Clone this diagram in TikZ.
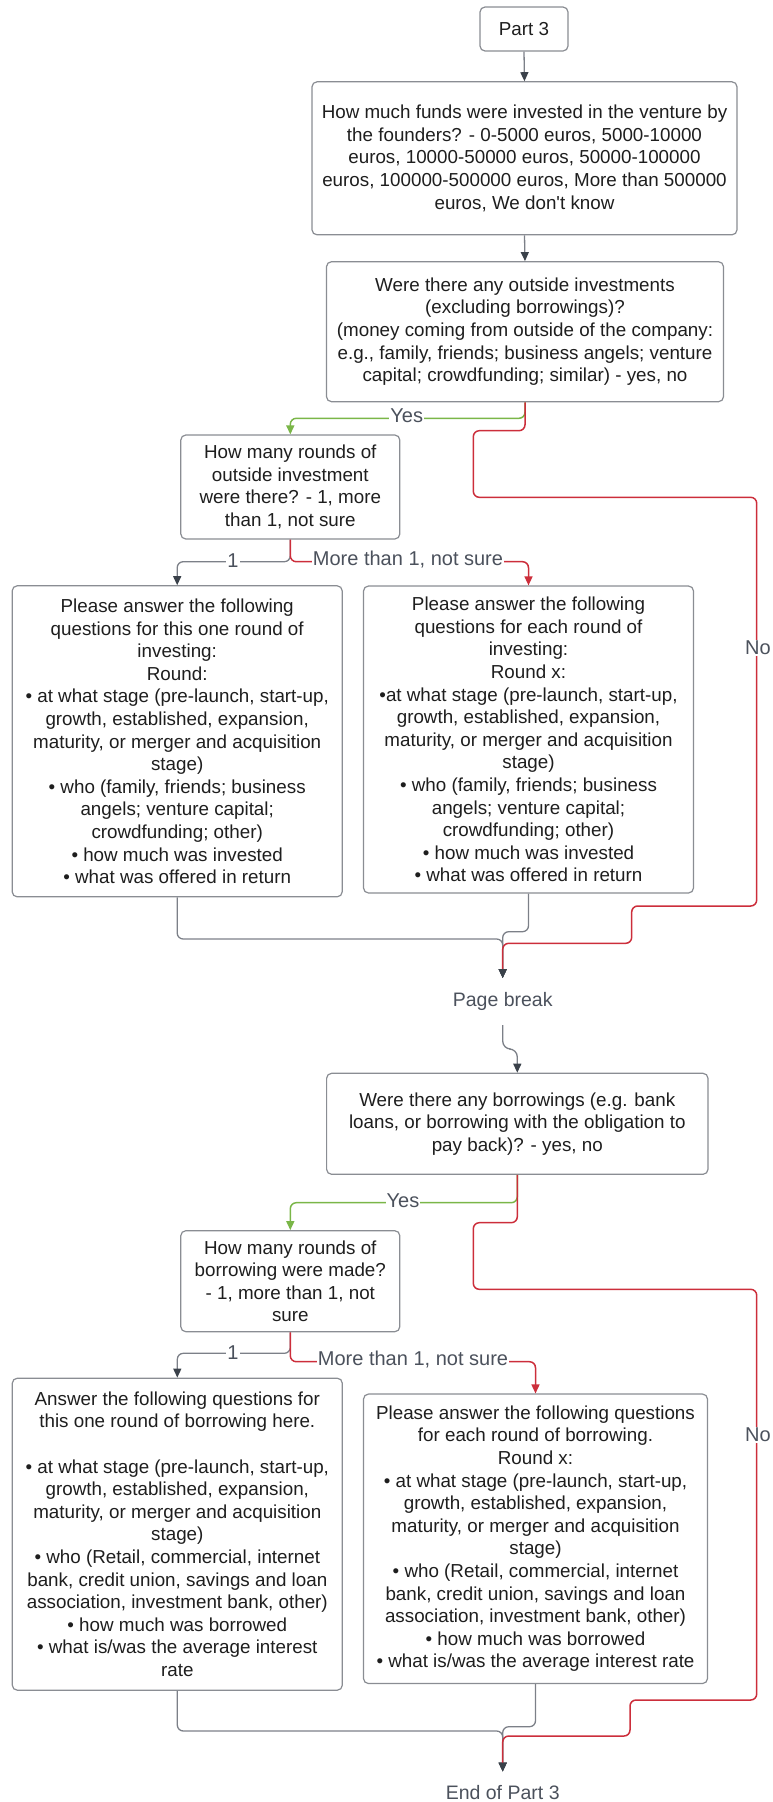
\documentclass[tikz,border=0pt]{standalone}
\usepackage{fontspec}
\setmainfont{Liberation Sans}
\usetikzlibrary{arrows.meta}
\definecolor{boxline}{HTML}{8A8D93}
\definecolor{conn}{HTML}{7C8088}
\definecolor{tipc}{HTML}{3A414A}
\definecolor{yesg}{HTML}{7AB648}
\definecolor{nor}{HTML}{CC2E3B}
\definecolor{lbl}{HTML}{4B515C}
\definecolor{txt}{HTML}{1E1E1E}
\begin{document}
\begin{tikzpicture}[x=1pt,y=-1pt,
  box/.style={draw=boxline, line width=1.2pt, rounded corners=5pt, fill=white, align=center, inner sep=0pt, text=txt, font=\fontsize{18.8}{22.6}\selectfont},
  plain/.style={align=center, inner sep=0pt, text=lbl, font=\fontsize{19.5}{23}\selectfont},
  lab/.style={fill=white, inner sep=1pt, text=lbl, font=\fontsize{20}{24}\selectfont},
  graylink/.style={draw=conn, line width=1.3pt, rounded corners=6pt, -{Triangle[length=9pt,width=8pt,color=tipc,fill=tipc]}},
  greenlink/.style={draw=yesg, line width=1.5pt, rounded corners=6pt, -{Triangle[length=9pt,width=8pt,color=yesg,fill=yesg]}},
  redlink/.style={draw=nor, line width=1.5pt, rounded corners=6pt, -{Triangle[length=9pt,width=8pt,color=nor,fill=nor]}},
  reddark/.style={draw=nor, line width=1.5pt, rounded corners=6pt, -{Triangle[length=9pt,width=8pt,color=tipc,fill=tipc]}}
]
\useasboundingbox (0,0) rectangle (772,1802);

% ---------- nodes ----------
\node[box, minimum width=88pt, minimum height=44pt] (b1) at (524,29) {Part 3};

\node[box, minimum width=425pt, minimum height=153pt] (b2) at (524.5,158.3)
 {How much funds were invested in the venture by\\
  the founders? - 0-5000 euros, 5000-10000\\
  euros, 10000-50000 euros, 50000-100000\\
  euros, 100000-500000 euros, More than 500000\\
  euros, We don\textquotesingle t know};

\node[box, minimum width=397pt, minimum height=140pt] (b3) at (525,331.7)
 {Were there any outside investments\\
  (excluding borrowings)?\\
  (money coming from outside of the company:\\
  e.g., family, friends; business angels; venture\\
  capital; crowdfunding; similar) - yes, no};

\node[box, minimum width=219pt, minimum height=104pt] (b4) at (290.3,487)
 {How many rounds of\\
  outside investment\\
  were there? - 1, more\\
  than 1, not sure};

\node[box, minimum width=330pt, minimum height=311pt] (b5) at (177.2,741.3)
 {Please answer the following\\
  questions for this one round of\\
  investing:\\
  Round:\\
  • at what stage (pre-launch, start-up,\\
  growth, established, expansion,\\
  maturity, or merger and acquisition\\
  stage)\\
  • who (family, friends; business\\
  angels; venture capital;\\
  crowdfunding; other)\\
  • how much was invested\\
  • what was offered in return};

\node[box, minimum width=330pt, minimum height=307pt] (b6) at (528.5,739.5)
 {Please answer the following\\
  questions for each round of\\
  investing:\\
  Round x:\\
  •at what stage (pre-launch, start-up,\\
  growth, established, expansion,\\
  maturity, or merger and acquisition\\
  stage)\\
  • who (family, friends; business\\
  angels; venture capital;\\
  crowdfunding; other)\\
  • how much was invested\\
  • what was offered in return};

\node[plain, minimum height=46.7pt] (pb) at (502.7,1001.6) {Page break};

\node[box, minimum width=381.4pt, minimum height=101pt] (b7) at (517.3,1123.8)
 {Were there any borrowings (e.g. bank\\
  loans, or borrowing with the obligation to\\
  pay back)? - yes, no};

\node[box, minimum width=219pt, minimum height=101pt] (b8) at (290.3,1281.2)
 {How many rounds of\\
  borrowing were made?\\
  - 1, more than 1, not\\
  sure};

\node[box, minimum width=330pt, minimum height=312pt] (b9) at (177.3,1534.2)
 {Answer the following questions for\\
  this one round of borrowing here.\\
  \mbox{}\\
  • at what stage (pre-launch, start-up,\\
  growth, established, expansion,\\
  maturity, or merger and acquisition\\
  stage)\\
  • who (Retail, commercial, internet\\
  bank, credit union, savings and loan\\
  association, investment bank, other)\\
  • how much was borrowed\\
  • what is/was the average interest\\
  rate};

\node[box, minimum width=344pt, minimum height=289.5pt] (b10) at (535.5,1538.8)
 {Please answer the following questions\\
  for each round of borrowing.\\
  Round x:\\
  • at what stage (pre-launch, start-up,\\
  growth, established, expansion,\\
  maturity, or merger and acquisition\\
  stage)\\
  • who (Retail, commercial, internet\\
  bank, credit union, savings and loan\\
  association, investment bank, other)\\
  • how much was borrowed\\
  • what is/was the average interest rate};

\node[plain, minimum height=42pt] (end) at (502.7,1792.7) {End of Part 3};

% ---------- connectors: part A ----------
\draw[graylink] (b1.south) -- (b2.north);
\draw[graylink] (b2.south) -- (b3.north);
\draw[greenlink] (b3.south) -- (525,418.3) -| (b4.north);
\draw[graylink] (b4.south) -- (290.3,561.7) -| (b5.north);
\draw[redlink] (b4.south) -- (290.3,561.7) -| (b6.north);
\draw[graylink] (b5.south) -- (177.2,939) -- (502.7,939) -- (pb.north);
\draw[graylink] (b6.south) -- (528.5,931.7) -- (502.7,931.7) -- (pb.north);
\draw[reddark] (b3.south) -- (525,430.7) -- (473.3,430.7) -- (473.3,497.3)
  -- (756.7,497.3) -- (756.7,906) -- (631.7,906) -- (631.7,943.3)
  -- (502.7,943.3) -- (pb.north);

% ---------- connectors: part B ----------
\draw[graylink, rounded corners=8pt] (pb.south) -- (502.7,1049) -| (b7.north);
\draw[greenlink] (b7.south) -- (517.3,1202.7) -| (b8.north);
\draw[graylink] (b8.south) -- (290.3,1353.3) -| (b9.north);
\draw[redlink] (b8.south) -- (290.3,1361.7) -| (b10.north);
\draw[graylink] (b9.south) -- (177.3,1731) -- (502.7,1731) -- (end.north);
\draw[graylink] (b10.south) -- (535.5,1726.7) -- (502.7,1726.7) -- (end.north);
\draw[reddark] (b7.south) -- (517.3,1222.7) -- (473.3,1222.7) -- (473.3,1289.3)
  -- (756.7,1289.3) -- (756.7,1700) -- (630,1700) -- (630,1736)
  -- (502.7,1736) -- (end.north);

% ---------- labels ----------
\node[lab] (lyes1) at (406.7,416) {Yes};
\node[lab] (lone1) at (233,561) {1};
\node[lab] (lmore1) at (408,560) {More than 1, not sure};
\node[lab] (lno1) at (758,648) {No};
\node[lab] (lyes2) at (403,1200.7) {Yes};
\node[lab] (lone2) at (233,1353) {1};
\node[lab] (lmore2) at (413,1360) {More than 1, not sure};
\node[lab] (lno2) at (758,1435) {No};
\end{tikzpicture}
\end{document}
